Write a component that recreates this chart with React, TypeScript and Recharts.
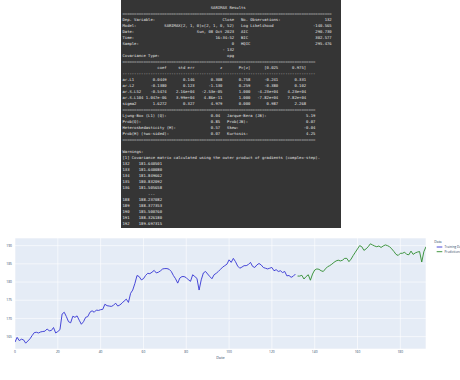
import React from 'react';
import { LineChart, Line, XAxis, YAxis, CartesianGrid, Legend } from 'recharts';

// ---------- chart data ----------
const trainStart = 0;
const trainValues = [
  163.5, 164.8, 163.9, 164.3, 164.1, 163.2, 163.8, 164.4, 165.3, 166.1,
  166.2, 166.0, 166.3, 166.4, 166.5, 167.1, 166.6, 166.7, 167.5, 166.0,
  166.4, 166.9, 171.2, 171.7, 170.5, 169.1, 168.8, 170.6, 170.3, 170.7,
  169.5, 168.4, 169.1, 170.3, 170.5, 171.7, 172.1, 171.7, 172.3, 172.2,
  172.4, 172.5, 173.9, 173.5, 173.4, 173.3, 173.6, 174.2, 173.4, 173.7,
  174.2, 174.8, 175.3, 174.4, 176.9, 177.8, 179.6, 181.8, 181.5, 180.6,
  180.9, 181.8, 182.4, 182.3, 182.7, 183.2, 182.5, 182.7, 183.1, 183.6,
  183.7, 183.7, 183.5, 182.9, 181.8, 180.9, 179.7, 181.1, 181.5, 181.5,
  181.2, 180.6, 180.2, 182.0, 181.5, 181.0, 177.8, 180.6, 182.5, 182.9,
  182.2, 181.5, 180.9, 182.0, 182.4, 182.9, 183.5, 184.1, 184.5, 184.9,
  186.1, 185.4, 186.5, 185.6, 184.4, 183.8, 184.1, 184.5, 184.5, 184.8,
  185.4, 184.3, 184.0, 184.7, 185.1, 184.7, 184.0, 183.8, 183.6, 183.8,
  184.0, 183.1, 183.4, 182.9, 183.1, 182.6, 182.9, 181.7, 181.8, 181.3,
  181.6, 182.2,
];
const predStart = 132;
const predValues = [
  181.64, 181.64, 181.85, 180.83, 181.51, 182.0, 180.5, 182.2, 183.3, 183.6,
  183.5, 183.1, 182.9, 183.6, 184.2, 184.5, 184.9, 185.4, 185.8, 186.0,
  185.8, 186.0, 186.5, 186.5, 185.6, 186.3, 187.3, 188.2, 189.1, 190.0,
  189.7, 188.7, 189.1, 189.7, 190.5, 190.2, 189.9, 189.7, 189.9, 189.5,
  189.9, 190.2, 190.0, 189.7, 189.1, 188.4, 187.6, 187.3, 187.9, 187.9,
  188.2, 187.6, 187.5, 188.5, 187.6, 188.0, 188.24, 188.38, 185.5, 188.33,
  189.7,
];
const xTicks = [0, 20, 40, 60, 80, 100, 120, 140, 160, 180];
const yTicks = [165, 170, 175, 180, 185, 190];
const xDomain = [0, 192];
const yDomain = [161.6, 192.1];
const seriesNames = ['Training Data', 'Predictions'];
const seriesColors = ['#3434d4', '#2e8b2e'];
const legendTitle = 'Data';
const xTitle = 'Date';

// ---------- summary text data ----------
const summaryTitle = 'SARIMAX Results';
const topRows = [
  ['Dep. Variable:', 'Close', 'No. Observations:', '132'],
  ['Model:', 'SARIMAX(2, 1, 0)x(2, 1, 0, 52)', 'Log Likelihood', '-140.565'],
  ['Date:', 'Sun, 08 Oct 2023', 'AIC', '290.730'],
  ['Time:', '16:34:52', 'BIC', '302.577'],
  ['Sample:', '0', 'HQIC', '295.476'],
  ['', '- 132', '', ''],
  ['Covariance Type:', 'opg', '', ''],
];
const paramHeader = ['coef', 'std err', 'z', 'P>|z|', '[0.025', '0.975]'];
const paramNames = ['ar.L1', 'ar.L2', 'ar.S.L52', 'ar.S.L104', 'sigma2'];
const paramCoef = ['0.0449', '-0.1380', '-0.5474', '1.047e-06', '1.6272'];
const paramStdErr = ['0.146', '0.123', '2.16e+04', '3.99e+04', '0.327'];
const paramZ = ['0.308', '-1.130', '-2.53e-05', '4.86e-11', '4.979'];
const paramP = ['0.758', '0.259', '1.000', '1.000', '0.000'];
const paramLo = ['-0.241', '-0.380', '-4.23e+04', '-7.82e+04', '0.987'];
const paramHi = ['0.331', '0.102', '4.23e+04', '7.82e+04', '2.268'];
const diagRows = [
  ['Ljung-Box (L1) (Q):', '0.04', 'Jarque-Bera (JB):', '5.19'],
  ['Prob(Q):', '0.85', 'Prob(JB):', '0.07'],
  ['Heteroskedasticity (H):', '0.57', 'Skew:', '-0.04'],
  ['Prob(H) (two-sided):', '0.07', 'Kurtosis:', '4.25'],
];
const warningLines = [
  'Warnings:',
  '[1] Covariance matrix calculated using the outer product of gradients (complex-step).',
];
const forecastHead = [
  ['132', '181.640501'],
  ['133', '181.640080'],
  ['134', '181.849662'],
  ['135', '180.832092'],
  ['136', '181.505658'],
];
const forecastTail = [
  ['188', '188.237082'],
  ['189', '188.377353'],
  ['190', '185.500760'],
  ['191', '188.326180'],
  ['192', '189.697315'],
];

const two = (l1: string, v1: string, l2: string, v2: string) =>
  l1 + v1.padStart(48 - l1.length) + '   ' + l2 + v2.padStart(39 - l2.length);
const diag = (l1: string, v1: string, l2: string, v2: string) =>
  l1 + v1.padStart(42 - l1.length) + '   ' + l2 + v2.padStart(38 - l2.length);

const summaryLines: string[] = [
  summaryTitle.padStart(45 + Math.ceil(summaryTitle.length / 2)),
  '='.repeat(90),
  ...topRows.map((r) => two(r[0], r[1], r[2], r[3])),
  '='.repeat(83),
  ''.padEnd(9) + paramHeader[0].padStart(10) + paramHeader.slice(1).map((s) => s.padStart(12)).join(''),
  '-'.repeat(83),
  ...paramNames.map(
    (n, i) =>
      n.padEnd(9) +
      paramCoef[i].padStart(10) +
      [paramStdErr[i], paramZ[i], paramP[i], paramLo[i], paramHi[i]].map((s) => s.padStart(12)).join('')
  ),
  '='.repeat(83),
  ...diagRows.map((r) => diag(r[0], r[1], r[2], r[3])),
  '='.repeat(83),
  '',
  ...warningLines,
  ...forecastHead.map((r) => r[0] + '    ' + r[1]),
  '           ...',
  ...forecastTail.map((r) => r[0] + '    ' + r[1]),
];

const data = Array.from({ length: xDomain[1] + 1 }, (_, i) => ({
  idx: i,
  train: i >= trainStart && i < trainStart + trainValues.length ? trainValues[i - trainStart] : null,
  pred: i >= predStart && i < predStart + predValues.length ? predValues[i - predStart] : null,
}));

const FONT = '"Open Sans", Verdana, Arial, sans-serif';
const AXIS_COLOR = '#2a3f5f';

const renderLegend = (props: any) => {
  const payload = ([...(props.payload || [])] as any[]).sort(
    (a, b) => seriesNames.indexOf(a.value) - seriesNames.indexOf(b.value)
  );
  return (
    <svg width={30} height={18} style={{ overflow: 'visible', display: 'block' }}>
      <text x={1.3} y={4.9} fontSize={3.4} fontFamily={FONT} fill={AXIS_COLOR}>
        {legendTitle}
      </text>
      {payload.map((p, i) => (
        <g key={p.value}>
          <line x1={3.7} x2={9.3} y1={9 + i * 4.7} y2={9 + i * 4.7} stroke={p.color} strokeWidth={0.9} />
          <text x={11.5} y={10.1 + i * 4.7} fontSize={3.1} fontFamily={FONT} fill={AXIS_COLOR}>
            {p.value}
          </text>
        </g>
      ))}
    </svg>
  );
};

const SummaryBox = () => (
  <svg width={220} height={228} style={{ position: 'absolute', left: 121, top: 0, display: 'block' }}>
    <rect x={0} y={0} width={220} height={228} fill="#353535" />
    {summaryLines.map((line, i) => (
      <text
        key={i}
        x={1.5}
        y={8.6 + i * 6}
        fontSize={3.87}
        fontFamily='"DejaVu Sans Mono", monospace'
        fill="#e6e6e6"
        xmlSpace="preserve"
        style={{ whiteSpace: 'pre' }}
      >
        {line}
      </text>
    ))}
  </svg>
);

export default function App() {
  return (
    <div
      style={{
        position: 'fixed',
        left: 0,
        top: 0,
        width: 460,
        height: 380,
        overflow: 'hidden',
        background: '#ffffff',
      }}
    >
      <SummaryBox />
      <div style={{ position: 'absolute', left: 0, top: 228 }}>
        <LineChart width={460} height={152} data={data} margin={{ top: 10, right: 4, bottom: 21, left: 0 }}>
          <CartesianGrid fill="#E5ECF6" stroke="#ffffff" strokeWidth={0.6} />
          <XAxis
            dataKey="idx"
            type="number"
            domain={xDomain}
            ticks={xTicks}
            interval={0}
            allowDataOverflow
            axisLine={false}
            tickLine={false}
            tickSize={0}
            tickMargin={1.5}
            height={10}
            tick={{ fontSize: 3.3, fill: AXIS_COLOR, fontFamily: FONT }}
            label={{ value: xTitle, position: 'insideBottom', offset: 0, fontSize: 3.8, fill: AXIS_COLOR, fontFamily: FONT }}
          />
          <YAxis
            type="number"
            domain={yDomain}
            ticks={yTicks}
            interval={0}
            allowDataOverflow
            axisLine={false}
            tickLine={false}
            tickSize={0}
            tickMargin={3}
            width={15}
            tick={{ fontSize: 3.3, fill: AXIS_COLOR, fontFamily: FONT }}
          />
          <Legend
            layout="vertical"
            align="right"
            verticalAlign="top"
            content={renderLegend}
            wrapperStyle={{ left: 433, top: 10, width: 30, height: 18 }}
          />
          <Line
            type="linear"
            dataKey="train"
            name={seriesNames[0]}
            stroke={seriesColors[0]}
            strokeWidth={0.9}
            dot={false}
            isAnimationActive={false}
            connectNulls={false}
          />
          <Line
            type="linear"
            dataKey="pred"
            name={seriesNames[1]}
            stroke={seriesColors[1]}
            strokeWidth={0.9}
            dot={false}
            isAnimationActive={false}
            connectNulls={false}
          />
        </LineChart>
      </div>
    </div>
  );
}
